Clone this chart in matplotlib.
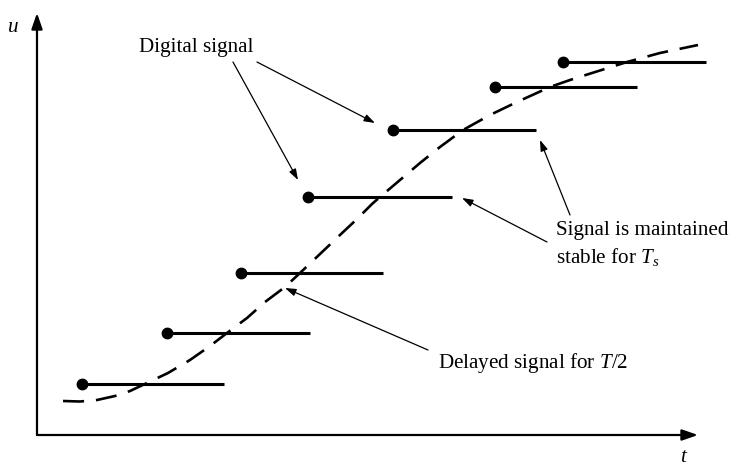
import matplotlib.pyplot as plt

plt.rcParams['font.family'] = 'Liberation Serif'
plt.rcParams['mathtext.fontset'] = 'custom'
plt.rcParams['mathtext.rm'] = 'Liberation Serif'
plt.rcParams['mathtext.it'] = 'Liberation Serif:italic'

# digital (held) signal: start of each step, its value and the end of the hold
step_t0 = [45, 130, 204, 271, 356, 458, 526]
step_t1 = [187, 273, 346, 415, 499, 600, 669]
step_u = [51, 102, 162, 238, 305, 348, 373]

# delayed analog signal (dashed curve)
curve_t = [26, 43, 60, 78, 93, 110, 131, 153, 173, 190, 210, 228, 248, 263, 283,
           303, 320, 335, 343, 363, 383, 403, 426, 453, 480, 513, 533, 555, 590, 623, 661]
curve_u = [34, 33.5, 35, 39, 44, 52, 62, 75, 89, 102, 117, 133, 148, 162, 181,
           200, 216, 231, 238, 255, 272, 288, 305, 320, 333, 348, 355, 362, 373, 382, 390]

fs = 15.2

fig = plt.figure(figsize=(7.35, 4.67), dpi=100)
ax = fig.add_axes([0, 0, 1, 1])
ax.set_xlim(-37, 698)
ax.set_ylim(-32, 435)
ax.axis('off')

# axes with arrows
axis_arrow = dict(arrowstyle='-|>,head_length=0.95,head_width=0.33', color='black',
                  lw=1.6, shrinkA=0, shrinkB=0, mutation_scale=10)
ax.annotate('', xy=(0, 422), xytext=(0, 0), arrowprops=axis_arrow)
ax.annotate('', xy=(661, 0), xytext=(0, 0), arrowprops=axis_arrow)
ax.text(-24, 408, 'u', fontsize=fs, style='italic', ha='center', va='center')
ax.text(646, -22, 't', fontsize=fs, style='italic', ha='center', va='center')

# curve
ax.plot(curve_t, curve_u, color='black', lw=1.9, dashes=(8, 4.5))

# steps
for t0, t1, u in zip(step_t0, step_t1, step_u):
    ax.plot([t0, t1], [u, u], color='black', lw=2.2, solid_capstyle='butt')
    ax.plot(t0, u, 'o', color='black', ms=7.5)

# annotations
arr = dict(arrowstyle='-|>,head_length=0.65,head_width=0.22', color='black',
           lw=0.9, shrinkA=0, shrinkB=0, mutation_scale=10)
ax.text(102, 383, 'Digital signal', fontsize=fs, ha='left', va='baseline')
ax.annotate('', xy=(261, 255), xytext=(196, 373), arrowprops=arr)
ax.annotate('', xy=(338, 312), xytext=(220, 373), arrowprops=arr)

ax.text(519, 200, 'Signal is maintained', fontsize=fs, ha='left', va='baseline')
ax.text(519, 172, 'stable for $T_s$', fontsize=fs, ha='left', va='baseline')
ax.annotate('', xy=(425, 237), xytext=(510, 193), arrowprops=arr)
ax.annotate('', xy=(503, 295), xytext=(533, 220), arrowprops=arr)

ax.text(401, 67, 'Delayed signal for $T$/2', fontsize=fs, ha='left', va='baseline')
ax.annotate('', xy=(248, 147), xytext=(391, 85), arrowprops=arr)

fig.savefig('out.png', dpi=100)
